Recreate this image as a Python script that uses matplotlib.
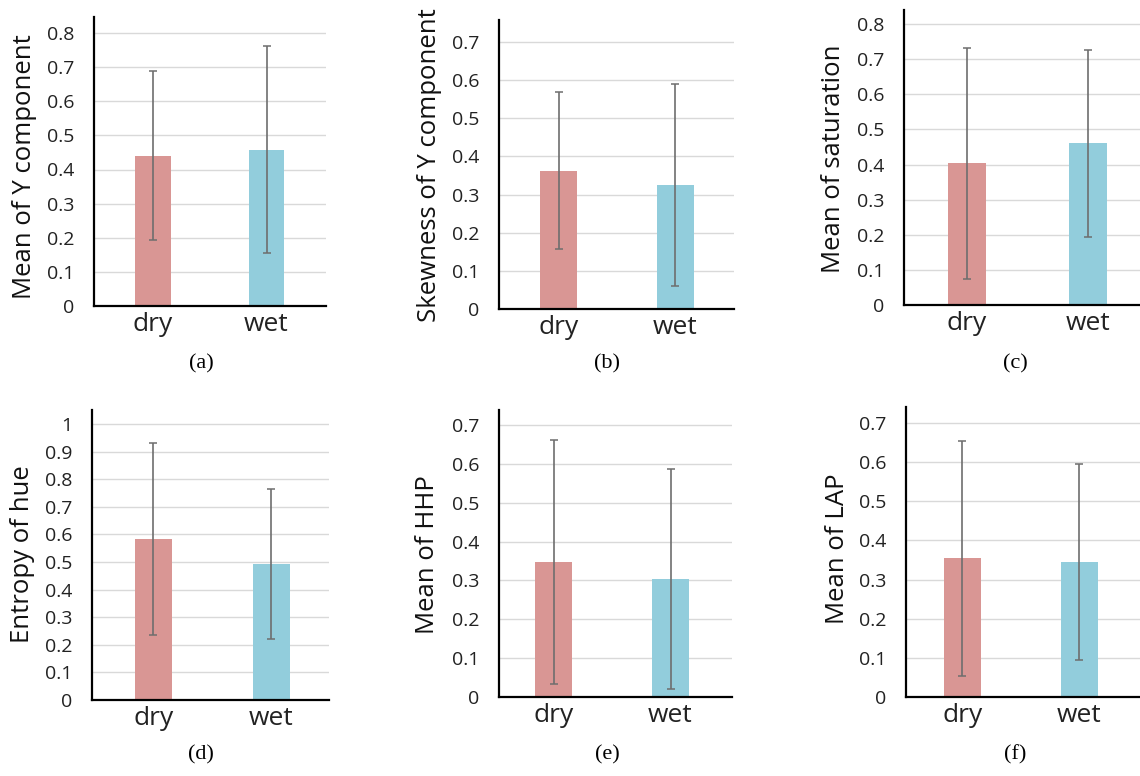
import matplotlib
matplotlib.use("Agg")
import matplotlib.pyplot as plt
from matplotlib.ticker import FuncFormatter
import numpy as np

# ---------------- data ----------------
categories = ["dry", "wet"]
ylabels = ["Mean of Y component", "Skewness of Y component", "Mean of saturation",
           "Entropy of hue", "Mean of HHP", "Mean of LAP"]
captions = ["(a)", "(b)", "(c)", "(d)", "(e)", "(f)"]

mean_y = [0.441, 0.458]
sd_mean_y = [0.248, 0.303]
skew_y = [0.363, 0.324]
sd_skew_y = [0.205, 0.265]
mean_sat = [0.403, 0.460]
sd_mean_sat = [0.330, 0.266]
entropy_hue = [0.582, 0.493]
sd_entropy_hue = [0.348, 0.271]
mean_hhp = [0.348, 0.304]
sd_mean_hhp = [0.314, 0.284]
mean_lap = [0.354, 0.344]
sd_mean_lap = [0.300, 0.250]

means = [mean_y, skew_y, mean_sat, entropy_hue, mean_hhp, mean_lap]
sds = [sd_mean_y, sd_skew_y, sd_mean_sat, sd_entropy_hue, sd_mean_hhp, sd_mean_lap]
ytick_max = [0.8, 0.7, 0.8, 1.0, 0.7, 0.7]

# ---------------- layout (pixels) ----------------
W, H = 1140, 776
# spine x, zero-line y, top y, px per category spacing, left margin, right margin (units)
layout = [
    (94, 306, 17, 113.5, 0.52, 0.52),
    (499, 309, 20, 116.7, 0.51, 0.50),
    (904, 305, 10, 121.0, 0.52, 0.52),
    (92, 700, 410, 117.8, 0.52, 0.49),
    (499, 697, 410, 116.7, 0.47, 0.53),
    (906, 697, 407, 117.0, 0.48, 0.52),
]
gridtop_px = [33, 42, 24, 424, 425, 423]
ylabel_pos = [(25, 167), (430, 165), (833, 159), (23, 554), (428, 555), (838, 549)]
caption_pos = [(201, 364), (607, 364), (1015, 364), (201, 755), (607, 755), (1015, 755)]

colors = ["#D99694", "#92CDDC"]
sans = ["Open Sans", "DejaVu Sans"]

fig = plt.figure(figsize=(W / 100, H / 100), dpi=100)
fmt = FuncFormatter(lambda v, p: f"{v:g}")

for i in range(6):
    sx, zy, ty, sp, lm, rm = layout[i]
    width_px = sp * (lm + 1 + rm)
    height_px = zy - ty
    ax = fig.add_axes([sx / W, (H - zy) / H, width_px / W, height_px / H])
    x = np.arange(len(categories))
    ax.bar(x, means[i], width=0.315, color=colors, zorder=2)
    ax.errorbar(x, means[i], yerr=sds[i], fmt="none", ecolor="#6e6e6e",
                elinewidth=1.2, capsize=2.6, capthick=1.1, zorder=3)
    ax.set_xlim(-lm, 1 + rm)
    ymax = ytick_max[i]
    unit_px = (zy - gridtop_px[i]) / ymax
    ax.set_ylim(0, height_px / unit_px)
    ticks = np.round(np.arange(0, ymax + 1e-9, 0.1), 2)
    ax.set_yticks(ticks)
    ax.yaxis.set_major_formatter(fmt)
    ax.set_xticks(x)
    ax.set_xticklabels(categories)
    ax.grid(axis="y", color="#d9d9d9", linewidth=1.0, zorder=0)
    ax.set_axisbelow(True)
    for s in ["top", "right"]:
        ax.spines[s].set_visible(False)
    for s in ["left", "bottom"]:
        ax.spines[s].set_linewidth(1.6)
        ax.spines[s].set_color("black")
        ax.spines[s].set_zorder(4)
    ax.tick_params(axis="both", length=0)
    ax.tick_params(axis="y", pad=14, labelsize=14, labelcolor="#222222")
    ax.tick_params(axis="x", pad=4, labelsize=19, labelcolor="#222222")
    for lab in ax.get_yticklabels() + ax.get_xticklabels():
        lab.set_family(sans)
    ax.set_ylabel(ylabels[i], fontsize=18.5, family=sans, color="#111111", va="center")
    lx, ly = ylabel_pos[i]
    ax.yaxis.set_label_coords(lx / W, (H - ly) / H, transform=fig.transFigure)
    cx, cy = caption_pos[i]
    fig.text(cx / W, (H - cy) / H, captions[i], ha="center", va="center",
             fontsize=16, family=["Liberation Serif", "DejaVu Serif"])

fig.savefig("out.png", dpi=100)
